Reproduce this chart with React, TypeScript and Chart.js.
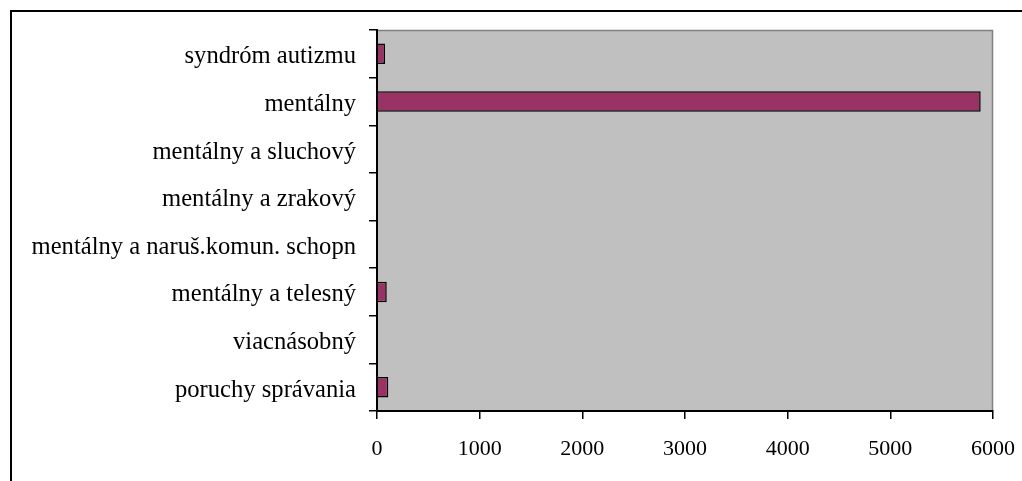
import React, { useEffect, useRef } from "react";
import { Chart, registerables } from "chart.js";

Chart.register(...registerables);

const categories = [
  "syndróm autizmu",
  "mentálny",
  "mentálny a sluchový",
  "mentálny a zrakový",
  "mentálny a naruš.komun. schopn",
  "mentálny a telesný",
  "viacnásobný",
  "poruchy správania",
];
const values = [78, 5880, 0, 0, 0, 95, 0, 110];
const xTicks = [0, 1000, 2000, 3000, 4000, 5000, 6000];

const FONT = "'Liberation Serif', 'Times New Roman', serif";

const framePlugin = {
  id: "frame",
  beforeDraw(chart: any) {
    const { ctx, chartArea } = chart;
    ctx.save();
    ctx.fillStyle = "#ffffff";
    ctx.fillRect(0, 0, chart.width, chart.height);
    ctx.fillStyle = "#C0C0C0";
    ctx.fillRect(chartArea.left, chartArea.top, chartArea.right - chartArea.left, chartArea.bottom - chartArea.top);
    ctx.strokeStyle = "#808080";
    ctx.lineWidth = 1.5;
    ctx.beginPath();
    ctx.moveTo(chartArea.left, chartArea.top + 0.5);
    ctx.lineTo(chartArea.right - 0.5, chartArea.top + 0.5);
    ctx.lineTo(chartArea.right - 0.5, chartArea.bottom);
    ctx.stroke();
    ctx.strokeStyle = "#000000";
    ctx.lineWidth = 2;
    ctx.beginPath();
    ctx.moveTo(11, chart.height + 2);
    ctx.lineTo(11, 11);
    ctx.lineTo(chart.width + 2, 11);
    ctx.stroke();
    ctx.restore();
  },
};

export default function App() {
  const ref = useRef<HTMLCanvasElement>(null);
  useEffect(() => {
    document.body.style.margin = "0";
    const chart = new Chart(ref.current!, {
      type: "bar",
      data: {
        labels: categories,
        datasets: [
          {
            data: values,
            backgroundColor: "#993366",
            borderColor: "#000000",
            borderWidth: 1.5,
            borderSkipped: "start",
            categoryPercentage: 1,
            barPercentage: 0.43,
          },
        ],
      },
      options: {
        indexAxis: "y",
        animation: false,
        responsive: false,
        devicePixelRatio: 1,
        layout: { padding: { left: 0, top: 30, right: 29, bottom: 0 } },
        plugins: { legend: { display: false }, tooltip: { enabled: false } },
        scales: {
          x: {
            min: 0,
            max: 6000,
            afterBuildTicks: (s: any) => { s.ticks = xTicks.map((v) => ({ value: v })); },
            afterFit: (s: any) => { s.height = 70; s.paddingLeft = 0; s.paddingRight = 0; },
            grid: { drawOnChartArea: false, tickLength: 8, color: "#000000", lineWidth: 1.5 },
            border: { color: "#000000", width: 2 },
            ticks: {
              color: "#000000",
              font: { family: FONT, size: 22 },
              padding: 17,
              maxRotation: 0,
              callback: (v: any) => String(v),
            },
          },
          y: {
            afterFit: (s: any) => { s.width = 377; s.paddingTop = 0; s.paddingBottom = 0; },
            grid: { drawOnChartArea: false, tickLength: 8, color: "#000000", lineWidth: 1.5, offset: true },
            border: { color: "#000000", width: 2 },
            ticks: { color: "#000000", font: { family: FONT, size: 24.6 }, padding: 13, labelOffset: 3 },
          },
        },
      },
      plugins: [framePlugin],
    });
    return () => chart.destroy();
  }, []);
  return (
    <div style={{ width: 1022, height: 481 }}>
      <canvas ref={ref} width={1022} height={481} style={{ display: "block" }} />
    </div>
  );
}
